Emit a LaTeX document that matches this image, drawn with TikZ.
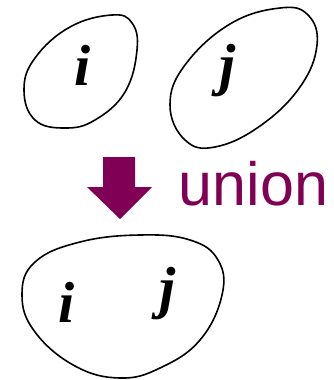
\documentclass[tikz,border=0pt]{standalone}
\usepackage{fontspec}
\usepackage{tikz}
\usetikzlibrary{positioning}
\newfontfamily\letterfont{Liberation Serif}
\newfontfamily\wordfont{Liberation Sans}
\definecolor{unionpurple}{RGB}{128, 0, 85}

\begin{document}
\begin{tikzpicture}[x=1pt, y=-1pt, line width=1.6pt,
    blob/.style={draw=black, line join=round},
    letter/.style={inner sep=0pt, font=\letterfont\bfseries\itshape\fontsize{58}{58}\selectfont}]
    \useasboundingbox (0,0) rectangle (333,380);

    % the two sets
    \draw[blob] plot[smooth cycle, tension=0.7] coordinates {(112,15) (132,23) (137,50) (125,92) (95,120) (65,128) (35,120) (24,90) (35,58) (70,27)};
    \draw[blob] plot[smooth cycle, tension=0.7] coordinates {(280,8) (308,15) (317,45) (300,87) (260,126) (215,147) (185,140) (170,105) (185,65) (230,24)};
    \node[letter] (iTop) at (83,65) {i};
    \node[letter] (jTop) at (228,71) {j};

    % arrow and label
    \fill[unionpurple] (103,157) -- (135,157) -- (135,187) -- (152,187) -- (120,219) -- (87,187) -- (103,187) -- cycle;
    \node[anchor=base west, inner sep=0pt, text=unionpurple, font=\wordfont\fontsize{61}{61}\selectfont] (label) at (178,205) {union};

    % the merged set
    \draw[blob] plot[smooth cycle, tension=0.7] coordinates {(140,235) (190,240) (218,260) (222,295) (200,340) (160,368) (120,378) (75,366) (35,332) (22,295) (35,262) (80,242)};
    \node[letter] (iBot) at (67,302) {i};
    \node[letter] (jBot) at (168,294) {j};
\end{tikzpicture}
\end{document}
